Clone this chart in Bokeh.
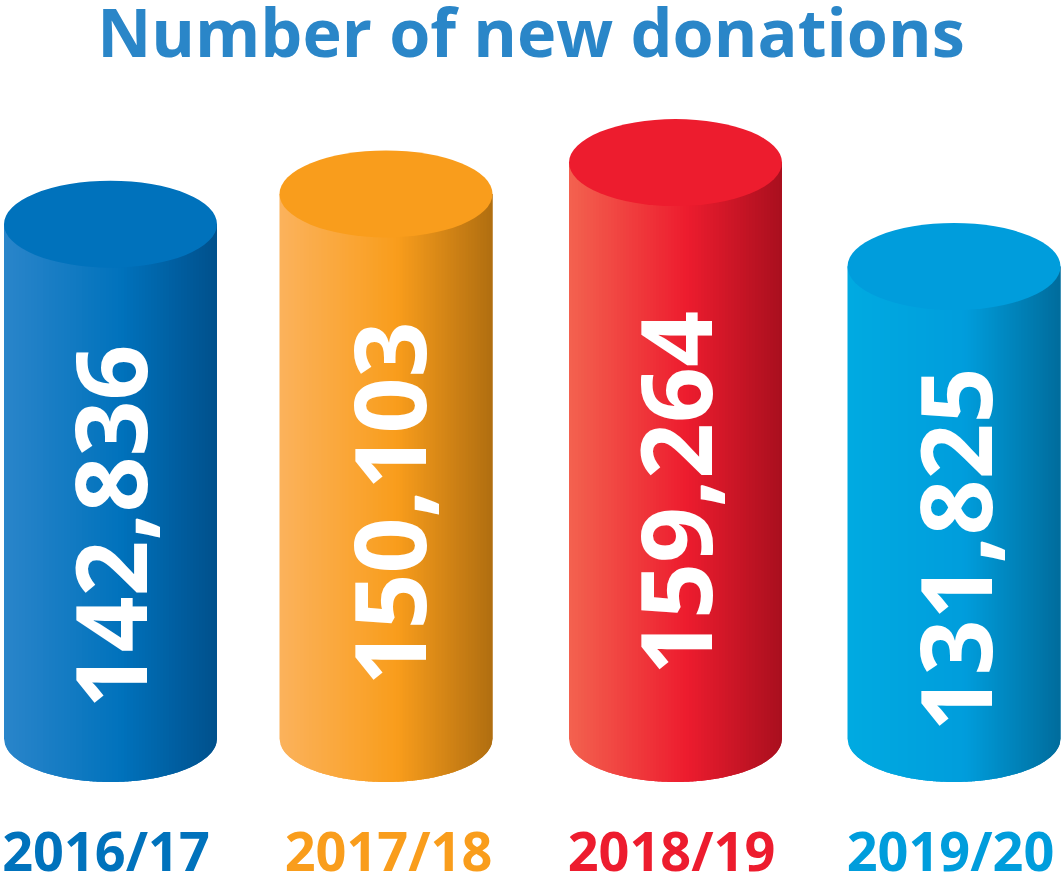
import numpy as np
from bokeh.plotting import figure
from bokeh.core.properties import value
from bokeh.embed import file_html
from bokeh.resources import INLINE

title = "Number of new donations"
years = ["2016/17", "2017/18", "2018/19", "2019/20"]
donations = [142470, 150850, 159530, 130745]   # cylinder heights as drawn
labels = ["142,836", "150,103", "159,264", "131,825"]
centers = [110, 385.5, 675, 953.5]
top_colors = ["#0072bc", "#f99d1c", "#ed1c2e", "#009ddc"]
left_colors = ["#2a85ca", "#fbb25c", "#f3624f", "#00aae1"]
right_colors = ["#00508c", "#b06e10", "#a90f1e", "#006c9c"]

W, H = 1062, 874
PX = 0.00361          # pixels per donation
BASE = 738            # pixel row of the zero line
y0 = -(H - BASE) / PX
y1 = BASE / PX
A, B = 106.5, 43.5    # cylinder half width, ellipse half height in px
BD = B / PX

def row(px):
    return (BASE - px) / PX

def hex2rgb(h):
    return np.array([int(h[i:i + 2], 16) for i in (1, 3, 5)], float)

def mix(t, l, m, r):
    l, m, r = hex2rgb(l), hex2rgb(m), hex2rgb(r)
    c = l + (m - l) * (t / 0.55) if t < 0.55 else m + (r - m) * ((t - 0.55) / 0.45)
    return "#%02x%02x%02x" % tuple(int(round(v)) for v in c)

p = figure(width=W, height=H, x_range=(0, W), y_range=(y0, y1),
           output_backend="svg", toolbar_location=None, min_border=0)
p.axis.visible = False
p.grid.visible = False
p.outline_line_color = None

xs, ys, cols = [], [], []
N = 71
for cx, val, top, lc, rc in zip(centers, donations, top_colors, left_colors, right_colors):
    edges = np.linspace(-A, A, N + 1)
    for i in range(N):
        a, b = edges[i], edges[min(i + 2, N)]
        sub = np.linspace(a, b, 7)
        low = -BD * np.sqrt(np.clip(1 - (sub / A) ** 2, 0, 1))
        xs.append(list(cx + sub) + list(cx + sub[::-1]))
        ys.append(list(low) + [val] * 7)
        cols.append(mix((i + 0.5) / N, lc, top, rc))
p.patches(xs, ys, fill_color=cols, line_color=None)
p.ellipse(centers, donations, width=2 * A, height=2 * BD, fill_color=top_colors, line_color=None)

# rotated values
p.text([111, 389.5, 676, 955.5], [row(v) for v in [526, 503, 492.5, 549]], text=labels, angle=np.pi / 2,
       text_color="white", text_font=value("Open Sans"), text_font_style="bold",
       text_font_size="98px", text_align="center", text_baseline="middle")

# year labels
p.text([105.5, 388, 671, 950], [row(849)] * 4, text=years,
       text_color=top_colors, text_font=value("Open Sans"), text_font_style="bold",
       text_font_size="54px", text_align="center", text_baseline="middle")

# title
p.text([530.5], [row(30)], text=[title], text_color="#2a86c8",
       text_font=value("Open Sans"), text_font_style="bold",
       text_font_size="66.5px", text_align="center", text_baseline="middle")

open("out.html", "w").write(file_html(p, INLINE))
